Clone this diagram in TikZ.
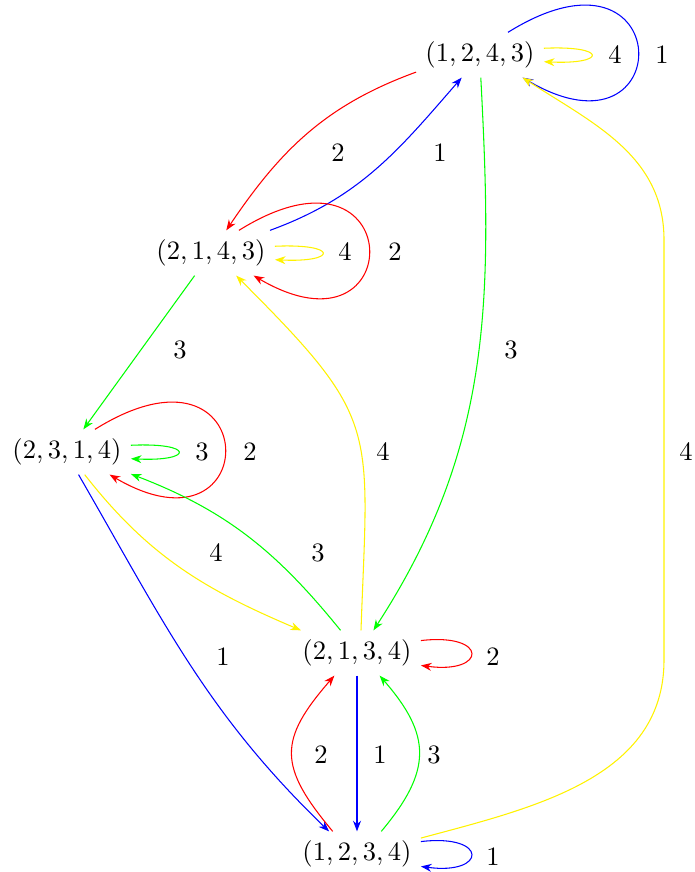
\documentclass[tikz,border=0pt]{standalone}
\usetikzlibrary{arrows.meta}
\begin{document}
\begin{tikzpicture}[x=0.377pt,y=0.377pt,
  >={Stealth[length=4pt,width=3pt]},
  state/.style={inner sep=3.333pt},
  lbl/.style={inner sep=1pt},
  arr/.style={->,line width=0.4pt},
  bigloop/.style={to path={.. controls +(170,106) and +(157,-92) .. (\tikztotarget) \tikztonodes}},
  medloop/.style={to path={.. controls +(68,8) and +(66,-9) .. (\tikztotarget) \tikztonodes}},
  smallloop/.style={to path={.. controls +(64,3) and +(63,-3) .. (\tikztotarget) \tikztonodes}}]
\useasboundingbox (0,0) rectangle (694,872);

% states
\node[state] (A) at (480,817) {$(1,2,4,3)$};
\node[state] (B) at (211,619) {$(2,1,4,3)$};
\node[state] (C) at (67,420) {$(2,3,1,4)$};
\node[state] (D) at (357,219) {$(2,1,3,4)$};
\node[state] (E) at (357,18) {$(1,2,3,4)$};

% waypoints of the long yellow edge
\coordinate (ya) at (664,212);
\coordinate (yb) at (664,632);

% edges from A
\draw[arr,red] (A.195) to[out=200,in=56] (B.56);
\draw[arr,green] (A.272) to[out=273,in=57] (D.54);
\draw[arr,blue] (A.39) to[bigloop] (A.-28);
\draw[arr,yellow] (A.6) to[smallloop] (A.-6);

% edges from B
\draw[arr,blue] (B.21) to[out=20,in=229] (A.231);
\draw[arr,red] (B.39) to[bigloop] (B.-28);
\draw[arr,yellow] (B.6) to[smallloop] (B.-6);
\draw[arr,green] (B) -- (C);

% edges from C
\draw[arr,red] (C.39) to[bigloop] (C.-28);
\draw[arr,green] (C.6) to[smallloop] (C.-6);
\draw[arr,yellow] (C.-52) to[out=-52,in=157] (D.158);
\draw[arr,blue] (C.-63) to[out=-60,in=136] (E.141);

% edges from D
\draw[arr,yellow] (D.80) to[out=88,in=-45,looseness=1.4] (B.-42);
\draw[arr,green] (D.126) to[out=129,in=-21] (C.-19);
\draw[arr,red] (D.11) to[medloop] (D.-11);
\draw[arr,blue] (D) -- (E);

% edges from E
\draw[arr,red] (E.137) to[out=130,in=229,looseness=1.4] (D.225);
\draw[arr,green] (E.43) to[out=50,in=-49,looseness=1.3] (D.-45);
\draw[arr,blue] (E.11) to[medloop] (E.-11);
\draw[arr,yellow] (E.14) to[out=15,in=-90] (ya) -- (yb) to[out=90,in=-33] (A.-28);

% labels
\node[lbl] (lA4) at (615,817) {$4$};
\node[lbl] (lA1) at (662,817) {$1$};
\node[lbl] (lAB) at (338,719) {$2$};
\node[lbl] (lBA) at (440,719) {$1$};
\node[lbl] (lB4) at (345,620) {$4$};
\node[lbl] (lB2) at (395,620) {$2$};
\node[lbl] (lBC) at (180,522) {$3$};
\node[lbl] (lAD) at (511,522) {$3$};
\node[lbl] (lC3) at (202,420) {$3$};
\node[lbl] (lC2) at (250,420) {$2$};
\node[lbl] (lDB) at (383,420) {$4$};
\node[lbl] (lEA) at (686,420) {$4$};
\node[lbl] (lDC) at (318,319) {$3$};
\node[lbl] (lCD) at (216,319) {$4$};
\node[lbl] (lCE) at (223,215) {$1$};
\node[lbl] (lD2) at (493,215) {$2$};
\node[lbl] (lED) at (321,117) {$2$};
\node[lbl] (lDE) at (380,117) {$1$};
\node[lbl] (lEDg) at (434,117) {$3$};
\node[lbl] (lE1) at (493,15) {$1$};
\end{tikzpicture}
\end{document}
